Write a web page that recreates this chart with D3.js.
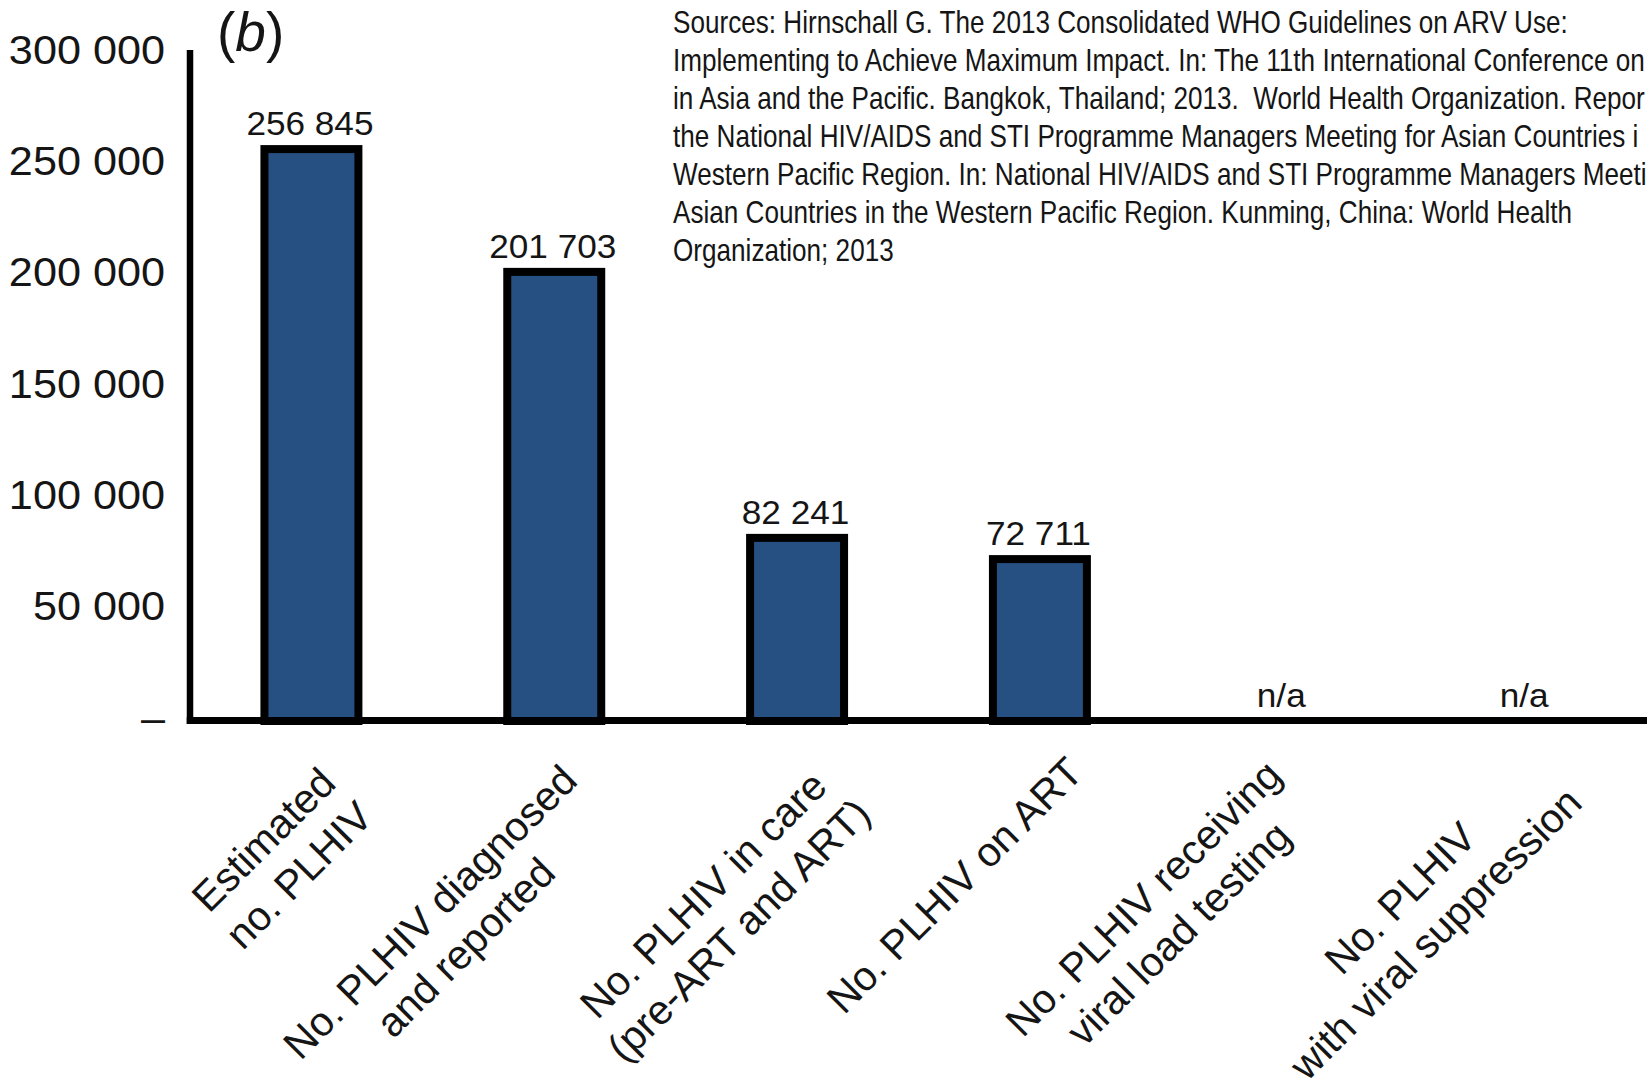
<!DOCTYPE html>
<html>
<head>
<meta charset="utf-8">
<script src="https://cdn.jsdelivr.net/npm/d3@7"></script>
<style>
  html, body { margin: 0; padding: 0; background: #ffffff; }
  svg { display: block; }
  text { font-family: "Liberation Sans", Arial, Helvetica, sans-serif; fill: #151515; }
</style>
</head>
<body>
<svg id="chart" width="1649" height="1092"></svg>
<script>
// ---------- data ----------
const categories = [
  "Estimated\nno. PLHIV",
  "No. PLHIV diagnosed\nand reported",
  "No. PLHIV in care\n(pre-ART and ART)",
  "No. PLHIV on ART",
  "No. PLHIV receiving\nviral load testing",
  "No. PLHIV\nwith viral suppression"
];
const values = [256845, 201703, 82241, 72711, null, null];
const missingLabel = "n/a";
const yTicks = [0, 50000, 100000, 150000, 200000, 250000, 300000];
const yTickLabels = ["\u2013", "50 000", "100 000", "150 000", "200 000", "250 000", "300 000"];
const panelLetter = "b";
// source note, as far as it is visible in the figure (it runs off the right edge)
const sourceLines = [
  "Sources: Hirnschall G. The 2013 Consolidated WHO Guidelines on ARV Use:",
  "Implementing to Achieve Maximum Impact. In: The 11th International Conference on",
  "in Asia and the Pacific. Bangkok, Thailand; 2013.  World Health Organization. Repor",
  "the National HIV/AIDS and STI Programme Managers Meeting for Asian Countries i",
  "Western Pacific Region. In: National HIV/AIDS and STI Programme Managers Meeti",
  "Asian Countries in the Western Pacific Region. Kunming, China: World Health",
  "Organization; 2013"
];

// ---------- layout ----------
const W = 1649, H = 1092;
const svg = d3.select("#chart");
svg.append("rect").attr("width", W).attr("height", H).attr("fill", "#ffffff");

const x = d3.scaleBand()
  .domain(categories)
  .range([190, 1647])
  .paddingInner(0.613)
  .paddingOuter(0.3065);

const y = d3.scaleLinear().domain([0, 300000]).range([721, 53]);

const fmt = v => d3.format(",")(v).replace(/,/g, " ");

// ---------- bars ----------
const data = categories.map((c, i) => ({ cat: c, value: values[i] }));

svg.append("g").selectAll("rect")
  .data(data.filter(d => d.value != null))
  .join("rect")
  .attr("x", d => x(d.cat))
  .attr("y", d => y(d.value))
  .attr("width", x.bandwidth())
  .attr("height", d => y(0) - y(d.value))
  .attr("fill", "#275082")
  .attr("stroke", "#000000")
  .attr("stroke-width", 8);

// ---------- value labels ----------
svg.append("g").selectAll("text")
  .data(data)
  .join("text")
  .attr("transform", d => `translate(${x(d.cat) + x.bandwidth() / 2 - 1.5},${y(d.value == null ? 0 : d.value) - 14}) scale(1.05,1)`)
  .attr("text-anchor", "middle")
  .attr("font-size", 33.5)
  .text(d => d.value == null ? missingLabel : fmt(d.value));

// ---------- y axis ----------
const yScaleX = 1.08;
const yAxis = svg.append("g")
  .attr("transform", "translate(190,0)")
  .call(d3.axisLeft(y)
    .tickValues(yTicks)
    .tickSize(0)
    .tickSizeOuter(0)
    .tickPadding(25)
    .tickFormat((d, i) => yTickLabels[i]));
yAxis.select(".domain").attr("stroke", "#000").attr("stroke-width", 6.5)
  .attr("d", `M0,${y(0) + 3}V50`);
yAxis.selectAll(".tick text")
  .attr("font-size", 40)
  .attr("fill", "#151515")
  .attr("x", -25 / yScaleX)
  .attr("transform", `scale(${yScaleX},1)`)
  .attr("dy", "0.25em");

// ---------- x axis ----------
const xAxis = svg.append("g")
  .attr("transform", `translate(0,${y(0) - 0.5})`)
  .call(d3.axisBottom(x).tickSize(0).tickSizeOuter(0).tickFormat(""));
xAxis.select(".domain").attr("stroke", "#000").attr("stroke-width", 7)
  .attr("d", "M186.75,0H1647");

// rotated, multi-line category labels: top-right corner of each block sits just below its tick
const labelFont = 41, lineH = 50, asc = 37;
const labelAnchor = [[2, 37], [-1, 36], [14, 34], [19, 28], [-25, 31], [-3, 23]];
xAxis.selectAll(".tick").each(function (d, i) {
  const g = d3.select(this);
  g.selectAll("text").remove();
  const lines = d.split("\n");
  const [ax, ay] = labelAnchor[i];
  const lg = g.append("g").attr("transform", `translate(${ax},${ay}) rotate(-45)`);
  const t = lg.append("text")
    .attr("font-size", labelFont)
    .attr("text-anchor", "middle")
    .attr("fill", "#151515");
  const tspans = lines.map((ln, k) => t.append("tspan").attr("y", asc + k * lineH).text(ln));
  let wMax = 0;
  tspans.forEach(ts => { wMax = Math.max(wMax, ts.node().getComputedTextLength()); });
  tspans.forEach(ts => ts.attr("x", -wMax / 2));
});

// ---------- panel label ----------
const pl = svg.append("text")
  .attr("x", 217).attr("y", 51)
  .attr("font-size", 55);
pl.append("tspan").text("(");
pl.append("tspan").attr("font-style", "italic").text(panelLetter);
pl.append("tspan").text(")");

// ---------- sources text (narrow face) ----------
const srcX = 673;
const src = svg.append("g");
const srcText = src.selectAll("text")
  .data(sourceLines)
  .join("text")
  .attr("x", 0)
  .attr("y", (d, i) => 33 + i * 38)
  .attr("font-size", 31)
  .attr("fill", "#000")
  .style("white-space", "pre")
  .text(d => d);
const lens = srcText.nodes().map(n => n.getComputedTextLength());
const sx = Math.min(899 / lens[0], 974 / d3.max(lens));
src.attr("transform", `translate(${srcX},0) scale(${sx},1)`);
</script>
</body>
</html>
